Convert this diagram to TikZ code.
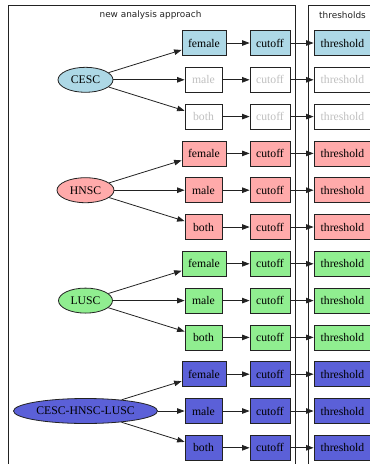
\documentclass[tikz,border=0pt]{standalone}
\usepackage{fontspec}
\setmainfont{Liberation Serif}
\newfontfamily\titlefont{DejaVu Sans}
\usetikzlibrary{shapes.geometric,arrows.meta}
\definecolor{cblue}{HTML}{ADD8E6}
\definecolor{cpink}{HTML}{FFAAAA}
\definecolor{cgreen}{HTML}{90EE90}
\definecolor{cslate}{HTML}{5B60D8}
\definecolor{ltext}{HTML}{C0C0C0}
\definecolor{lnk}{HTML}{222222}
\begin{document}
\begin{tikzpicture}[x=1pt,y=-1pt,
  box/.style={draw=lnk,line width=0.8pt,rectangle,minimum height=25pt,inner sep=0pt,font=\fontsize{11.7}{13}\selectfont},
  ell/.style={draw=lnk,line width=0.8pt,ellipse,minimum height=25pt,inner sep=0pt,font=\fontsize{11.7}{13}\selectfont},
  edge/.style={-{Triangle[length=7.5pt,width=5.5pt]},line width=0.8pt,draw=lnk},
  cluster/.style={draw=lnk,line width=0.8pt},
  ttl/.style={font=\titlefont\fontsize{8.9}{10}\selectfont,text=lnk}
]
\useasboundingbox (0,0) rectangle (370,464);
\clip (0,0) rectangle (370,464);
\draw[cluster] (8,5) rectangle (295,480);
\draw[cluster] (308,5) rectangle (400,480);
\node[ttl] (t1) at (150.5,15) {new analysis approach};
\node[ttl] (t2) at (342.5,15) {thresholds};
% CESC group
\node[ell,fill=cblue,minimum width=55pt] (e0) at (85.5,79.8) {CESC};
\node[box,fill=cblue,minimum width=44pt] (f0) at (204,43) {female};
\node[box,fill=white,text=ltext,minimum width=37pt] (m0) at (203.5,79.8) {male};
\node[box,fill=white,text=ltext,minimum width=37pt] (b0) at (203.5,116.6) {both};
\node[box,fill=cblue,minimum width=40pt] (cf0) at (270,43) {cutoff};
\node[box,fill=white,text=ltext,minimum width=40pt] (cm0) at (270,79.8) {cutoff};
\node[box,fill=white,text=ltext,minimum width=40pt] (cb0) at (270,116.6) {cutoff};
\node[box,fill=cblue,minimum width=57pt] (tf0) at (342.5,43) {threshold};
\node[box,fill=white,text=ltext,minimum width=57pt] (tm0) at (342.5,79.8) {threshold};
\node[box,fill=white,text=ltext,minimum width=57pt] (tb0) at (342.5,116.6) {threshold};
\draw[edge] (e0) -- (f0);
\draw[edge] (e0) -- (m0);
\draw[edge] (e0) -- (b0);
\draw[edge] (f0) -- (cf0);
\draw[edge] (m0) -- (cm0);
\draw[edge] (b0) -- (cb0);
\draw[edge] (cf0) -- (tf0);
\draw[edge] (cm0) -- (tm0);
\draw[edge] (cb0) -- (tb0);
% other groups
\foreach \g/\lab/\col/\w in {1/HNSC/cpink/57, 2/LUSC/cgreen/54, 3/CESC-HNSC-LUSC/cslate/144}{
  \pgfmathsetmacro{\ya}{43+110.4*\g}
  \pgfmathsetmacro{\yb}{\ya+36.8}
  \pgfmathsetmacro{\yc}{\ya+73.6}
  \node[ell,fill=\col,minimum width=\w pt] (e\g) at (85.5,\yb) {\lab};
  \node[box,fill=\col,minimum width=44pt] (f\g) at (204,\ya) {female};
  \node[box,fill=\col,minimum width=37pt] (m\g) at (203.5,\yb) {male};
  \node[box,fill=\col,minimum width=37pt] (b\g) at (203.5,\yc) {both};
  \node[box,fill=\col,minimum width=40pt] (cf\g) at (270,\ya) {cutoff};
  \node[box,fill=\col,minimum width=40pt] (cm\g) at (270,\yb) {cutoff};
  \node[box,fill=\col,minimum width=40pt] (cb\g) at (270,\yc) {cutoff};
  \node[box,fill=\col,minimum width=57pt] (tf\g) at (342.5,\ya) {threshold};
  \node[box,fill=\col,minimum width=57pt] (tm\g) at (342.5,\yb) {threshold};
  \node[box,fill=\col,minimum width=57pt] (tb\g) at (342.5,\yc) {threshold};
  \draw[edge] (e\g) -- (f\g);
  \draw[edge] (e\g) -- (m\g);
  \draw[edge] (e\g) -- (b\g);
  \draw[edge] (f\g) -- (cf\g);
  \draw[edge] (m\g) -- (cm\g);
  \draw[edge] (b\g) -- (cb\g);
  \draw[edge] (cf\g) -- (tf\g);
  \draw[edge] (cm\g) -- (tm\g);
  \draw[edge] (cb\g) -- (tb\g);
}
\end{tikzpicture}
\end{document}
